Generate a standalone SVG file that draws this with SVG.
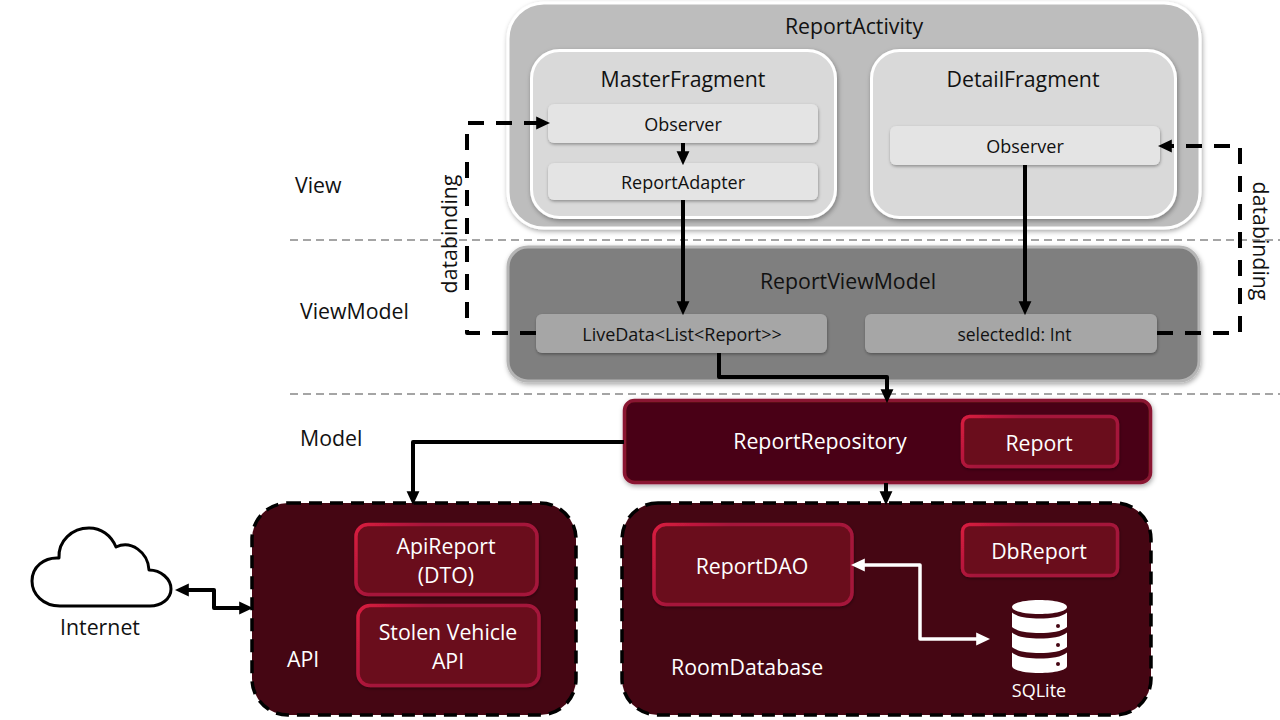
<svg xmlns="http://www.w3.org/2000/svg" width="1280" height="720" viewBox="0 0 1280 720">
<style>
text{font-family:"Open Sans","Noto Sans","Liberation Sans",sans-serif;font-size:21.300px;fill:#111;text-anchor:middle}
.s{font-size:18px}
.w{fill:#fff}
.l{text-anchor:start}
.act{fill:#bdbdbd;stroke:#fff;stroke-width:3;filter:url(#sh)}
.frag{fill:#d9d9d9;stroke:#fff;stroke-width:3;filter:url(#sh)}
.obs{fill:#e4e4e4;filter:url(#sm)}
.vm{fill:#7f7f7f;stroke:#b5b5b5;stroke-width:3;filter:url(#sh)}
.ld{fill:#a6a6a6;filter:url(#sm)}
.repo{fill:#4a0412;stroke:#8a1532;stroke-width:3.500;filter:url(#sh)}
.cl{fill:#6b071c;stroke:url(#edge);stroke-width:3.500;filter:url(#sm)}
.pkg{fill:#450613;stroke:#000;stroke-width:3.500;stroke-dasharray:13 8}
.sep{fill:none;stroke:#888;stroke-width:1.500;stroke-dasharray:8 5}
.c{fill:none;stroke:#000;stroke-width:4;stroke-linejoin:round}
.d{stroke-dasharray:16 12}
.wl{fill:none;stroke:#fff;stroke-width:3.500;stroke-linejoin:round}
</style>
<defs>
<linearGradient id="edge" x1="0" y1="0" x2="1" y2="0.300"><stop offset="0" stop-color="#d81b3f"/><stop offset="0.350" stop-color="#a5173a"/><stop offset="1" stop-color="#a5173a"/></linearGradient>
<filter id="sh" x="-5%" y="-5%" width="110%" height="115%"><feDropShadow dx="1" dy="2" stdDeviation="2.500" flood-color="#000" flood-opacity="0.350"/></filter>
<filter id="sm" x="-5%" y="-10%" width="110%" height="125%"><feDropShadow dx="0.500" dy="1.500" stdDeviation="1.500" flood-color="#000" flood-opacity="0.350"/></filter>
<marker id="a" markerUnits="userSpaceOnUse" markerWidth="14" markerHeight="14" viewBox="0 0 12 12" refX="5" refY="6" orient="auto-start-reverse"><path d="M0 0.500L12 6L0 11.500Z" fill="#000"/></marker>
<marker id="b" markerUnits="userSpaceOnUse" markerWidth="14" markerHeight="14" viewBox="0 0 12 12" refX="5" refY="6" orient="auto-start-reverse"><path d="M0 0.500L12 6L0 11.500Z" fill="#fff"/></marker>
</defs>
<rect width="1280" height="720" fill="#fff"/>
<g id="separators">
<path class="sep" d="M290 240H1280M290 394H1280"/>
</g>
<g id="layer-labels">
<text class="l" x="295" y="193">View</text>
<text class="l" x="300" y="319">ViewModel</text>
<text class="l" x="300" y="446">Model</text>
</g>
<g id="ReportActivity">
<rect class="act" x="508" y="3" width="692" height="225" rx="36"/>
<text x="854" y="34">ReportActivity</text>
</g>
<g id="MasterFragment">
<rect class="frag" x="531.500" y="50.500" width="304" height="167" rx="28"/>
<text x="683" y="87">MasterFragment</text>
</g>
<g id="MasterObserver">
<rect class="obs" x="548" y="104" width="270" height="39" rx="6"/>
<text class="s" x="683" y="131">Observer</text>
</g>
<g id="ReportAdapter">
<rect class="obs" x="548" y="163" width="270" height="37" rx="6"/>
<text class="s" x="683" y="189">ReportAdapter</text>
</g>
<g id="DetailFragment">
<rect class="frag" x="871.500" y="50.500" width="304" height="167" rx="28"/>
<text x="1023" y="87">DetailFragment</text>
</g>
<g id="DetailObserver">
<rect class="obs" x="890" y="126" width="270" height="39" rx="6"/>
<text class="s" x="1025" y="153">Observer</text>
</g>
<g id="ReportViewModel">
<rect class="vm" x="508" y="247" width="691" height="134" rx="20"/>
<text x="848" y="289">ReportViewModel</text>
</g>
<g id="LiveData">
<rect class="ld" x="536" y="314" width="291" height="39" rx="6"/>
<text class="s" x="682" y="341">LiveData&lt;List&lt;Report&gt;&gt;</text>
</g>
<g id="selectedId">
<rect class="ld" x="865" y="314" width="292" height="39" rx="6"/>
<text class="s" x="1014.500" y="341" style="font-size:17.500px">selectedId: Int</text>
</g>
<g id="ReportRepository">
<rect class="repo" x="624.500" y="400.500" width="526" height="82" rx="10"/>
<text class="w" x="820" y="449">ReportRepository</text>
</g>
<g id="Report">
<rect class="cl" x="962.500" y="416.500" width="155" height="50" rx="7"/>
<text class="w" x="1039" y="451">Report</text>
</g>
<g id="API">
<rect class="pkg" x="252" y="503" width="324" height="212" rx="36"/>
<text class="w l" x="287" y="667">API</text>
</g>
<g id="ApiReport">
<rect class="cl" x="356" y="524.500" width="181" height="70" rx="12"/>
<text class="w" x="446" y="554">ApiReport</text>
<text class="w" x="446" y="583">(DTO)</text>
</g>
<g id="StolenVehicleApi">
<rect class="cl" x="358" y="605.500" width="181" height="80" rx="12"/>
<text class="w" x="448" y="640">Stolen Vehicle</text>
<text class="w" x="448" y="669">API</text>
</g>
<g id="RoomDatabase">
<rect class="pkg" x="622" y="503" width="529" height="212" rx="36"/>
<text class="w l" x="671" y="675">RoomDatabase</text>
</g>
<g id="ReportDAO">
<rect class="cl" x="654" y="524.500" width="198" height="80" rx="12"/>
<text class="w" x="752" y="574">ReportDAO</text>
</g>
<g id="DbReport">
<rect class="cl" x="962.500" y="524.500" width="155" height="51" rx="7"/>
<text class="w" x="1039" y="559">DbReport</text>
</g>
<g id="SQLite">
<path fill="#fff" d="M1012 607C1012 603 1024 600 1039.500 600S1067 603 1067 607S1055 614 1039.500 614S1012 611 1012 607ZM1012 612.500C1017 617 1028 618.500 1039.500 618.500S1062 617 1067 612.500V627C1062 631.500 1051 633 1039.500 633S1017 631.500 1012 627ZM1012 632.500C1017 637 1028 638.500 1039.500 638.500S1062 637 1067 632.500V647C1062 651.500 1051 653 1039.500 653S1017 651.500 1012 647ZM1012 652.500C1017 657 1028 658.500 1039.500 658.500S1062 657 1067 652.500V666C1067 670 1055 673 1039.500 673S1012 670 1012 666Z"/>
<g fill="#450613"><circle cx="1058" cy="626" r="2"/><circle cx="1058" cy="645" r="2"/><circle cx="1058" cy="664" r="2"/></g>
<text class="w s" x="1039" y="697">SQLite</text>
</g>
<g id="Internet">
<path fill="#fff" stroke="#000" stroke-width="3" stroke-linejoin="round" d="M60 606C43 606 32 594 32 581C32 567 44 557 59 558C58 541 72 528 89 528C101 528 111 535 116 547C131 540 148 552 149 570C161 570 171 579 171 589C171 599 161 606 150 606Z"/>
<text x="100" y="635">Internet</text>
</g>
<g id="connectors">
<path class="c d" d="M536 333H467V123H542" marker-end="url(#a)"/>
<path class="c d" d="M1157 333H1240V146H1166" marker-end="url(#a)"/>
<path class="c" d="M683 143V157" marker-end="url(#a)"/>
<path class="c" d="M683 200V307" marker-end="url(#a)"/>
<path class="c" d="M1025 165V307" marker-end="url(#a)"/>
<path class="c" d="M719 353V377H887V395" marker-end="url(#a)"/>
<path class="c" d="M624 442H413V497" marker-end="url(#a)"/>
<path class="c" d="M886 483V497" marker-end="url(#a)"/>
<path class="c" d="M183 590H214V608H245" marker-start="url(#a)" marker-end="url(#a)"/>
<path class="wl" d="M859 565H920V639H982" marker-start="url(#b)" marker-end="url(#b)"/>
</g>
<g id="connector-labels">
<text transform="translate(457 234) rotate(-90)">databinding</text>
<text transform="translate(1253 241) rotate(90)">databinding</text>
</g>
</svg>
